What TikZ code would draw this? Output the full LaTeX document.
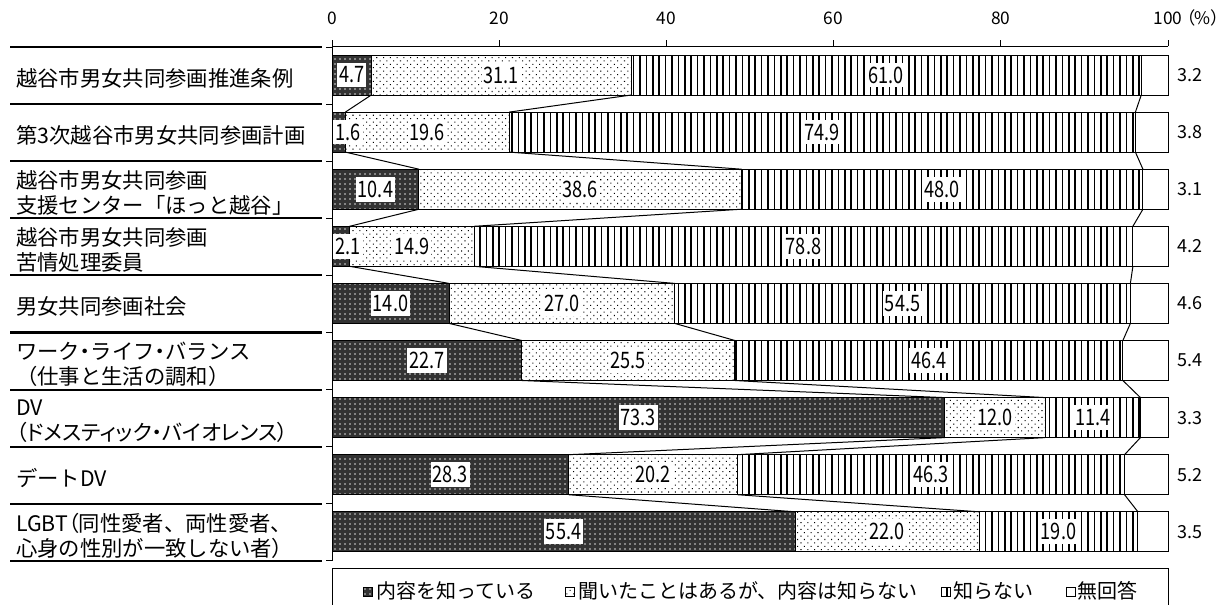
\documentclass[tikz,border=0pt]{standalone}
\usepackage{fontspec}
\setmainfont{Noto Sans CJK JP}
\newfontfamily\propjp{Noto Sans CJK JP}[RawFeature=+palt]
\usetikzlibrary{patterns.meta}

\newcommand{\barnum}[1]{\scalebox{0.8}[1]{#1}}

\tikzset{
  knownfill/.style={draw=black, line width=0.75pt, preaction={fill=black!80},
    pattern={Dots[distance=3.75pt, radius=0.7pt]}, pattern color=white!85!black},
  heardfill/.style={draw=black, line width=0.75pt, preaction={fill=white},
    pattern={Dots[angle=45, distance=3.6pt, radius=0.55pt]}, pattern color=black},
  unknownfill/.style={draw=black, line width=0.75pt, preaction={fill=white},
    pattern={Lines[angle=90, distance=4.8pt, line width=1.15pt]}, pattern color=black},
  noansfill/.style={draw=black, line width=0.75pt, fill=white},
  numbox/.style={fill=white, inner xsep=1.5pt, inner ysep=0pt, minimum height=18.5pt,
    font=\fontsize{17}{18}\selectfont},
  sidenum/.style={font=\fontsize{13.5}{15}\selectfont},
  axisnum/.style={font=\fontsize{13}{15}\selectfont},
  rowlab/.style={anchor=west, align=left, inner sep=0pt, font=\fontsize{16}{18.75}\selectfont},
  sepline/.style={line width=1.6pt},
  legtext/.style={anchor=west, inner sep=0pt, font=\fontsize{15}{17}\selectfont},
  legkey/.style={minimum size=6.75pt, inner sep=0pt, line width=0.5pt},
}

\begin{document}
\begin{tikzpicture}[x=0.75pt, y=-0.75pt]
\useasboundingbox (0,0) rectangle (1225,604);

\draw[line width=0.75pt] (332,46) -- (1168,46);
\draw[line width=0.75pt] (332,46) -- (332,561);
\foreach \p in {0,20,...,100} {
  \draw[line width=0.75pt] ({332+8.36*\p},40) -- ({332+8.36*\p},46);
  \node[axisnum] (ax\p) at ({332+8.36*\p},18) {\p};
}
\node[axisnum, anchor=west, inner sep=0pt, xshift=-1pt] (pct) at (ax100.east) {\propjp（\%）};

\foreach \k in {0,...,9} {
  \draw[sepline] (10,{47+57.1*\k}) -- (322,{47+57.1*\k});
  \draw[line width=0.75pt] (326,{47+57.1*\k}) -- (332,{47+57.1*\k});
}

\node[rowlab] (lab1) at (16,78.5) {越谷市男女共同参画推進条例};
\node[rowlab] (lab2) at (16,135.6) {第3次越谷市男女共同参画計画};
\node[rowlab] (lab3) at (16,192.7) {越谷市男女共同参画\\支援センター「ほっと越谷」};
\node[rowlab] (lab4) at (16,249.8) {越谷市男女共同参画\\苦情処理委員};
\node[rowlab] (lab5) at (16,306.9) {男女共同参画社会};
\node[rowlab] (lab6) at (16,364) {ワーク{\propjp ・}ライフ{\propjp ・}バランス\\（仕事と生活の調和）};
\node[rowlab] (lab7) at (16,421.1) {DV\\{\propjp （ドメスティック・バイオレンス）}};
\node[rowlab] (lab8) at (16,478.2) {デートDV};
\node[rowlab] (lab9) at (16,536) {LGBT{\propjp （}同性愛者、両性愛者、\\心身の性別が一致しない者{\propjp ）}};

\foreach \r/\pa/\pb/\pc/\pn in {1/4.7/31.1/61.0/3.2, 2/1.6/19.6/74.9/3.8,
    3/10.4/38.6/48.0/3.1, 4/2.1/14.9/78.8/4.2, 5/14.0/27.0/54.5/4.6,
    6/22.7/25.5/46.4/5.4, 7/73.3/12.0/11.4/3.3, 8/28.3/20.2/46.3/5.2,
    9/55.4/22.0/19.0/3.5} {
  \pgfmathsetmacro\yt{55+57.1*(\r-1)}
  \pgfmathsetmacro\yb{\yt+40}
  \pgfmathsetmacro\ym{\yt+20}
  \pgfmathsetmacro\xa{332+8.36*\pa}
  \pgfmathsetmacro\xb{\xa+8.36*\pb}
  \pgfmathsetmacro\xc{\xb+8.36*\pc}
  \draw[knownfill] (332,\yt) rectangle (\xa,\yb);
  \draw[heardfill] (\xa,\yt) rectangle (\xb,\yb);
  \draw[unknownfill] (\xb,\yt) rectangle (\xc,\yb);
  \draw[noansfill] (\xc,\yt) rectangle (1168,\yb);
  \coordinate (t\r-1) at (\xa,\yt);
  \coordinate (b\r-1) at (\xa,\yb);
  \coordinate (t\r-2) at (\xb,\yt);
  \coordinate (b\r-2) at (\xb,\yb);
  \coordinate (t\r-3) at (\xc,\yt);
  \coordinate (b\r-3) at (\xc,\yb);
  \pgfmathsetmacro\la{max((332+\xa)/2,348)}
  \node[numbox] (n\r-1) at (\la,\ym) {\barnum{\pa}};
  \node[numbox] (n\r-2) at ({(\xa+\xb)/2},\ym) {\barnum{\pb}};
  \node[numbox] (n\r-3) at ({(\xb+\xc)/2},\ym) {\barnum{\pc}};
  \node[sidenum] (s\r) at (1190,\ym) {\pn};
}

\foreach \r [evaluate=\r as \q using int(\r+1)] in {1,...,8}
  \foreach \s in {1,2,3}
    \draw[line width=0.75pt] (b\r-\s) -- (t\q-\s);

\draw[line width=0.75pt] (332,606) -- (332,568) -- (1168,568) -- (1168,606);
\node[legkey, knownfill] (key1) at (367.5,591.5) {};
\node[legtext] (leg1) at (376,591) {内容を知っている};
\node[legkey, heardfill] (key2) at (570,591.5) {};
\node[legtext] (leg2) at (578,591) {聞いたことはあるが、内容は知らない};
\node[legkey, unknownfill] (key3) at (946,591.5) {};
\node[legtext] (leg3) at (953,591) {知らない};
\node[legkey, noansfill] (key4) at (1071,591.5) {};
\node[legtext] (leg4) at (1077,591) {無回答};
\end{tikzpicture}
\end{document}
